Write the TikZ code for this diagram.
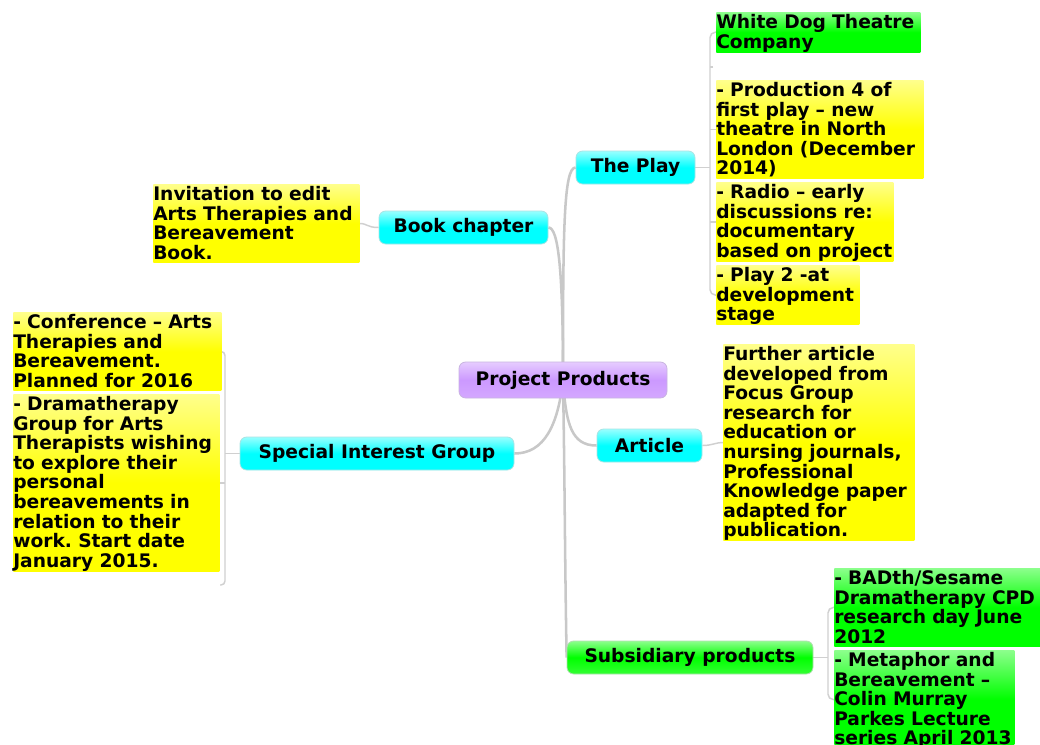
\documentclass[tikz,border=0pt]{standalone}
\usepackage{fontspec}
\setmainfont{DejaVu Sans}
\usetikzlibrary{backgrounds}
\frenchspacing

% one text line of a leaf: fixed strut so every row is 14.7pt tall
\newcommand\lstrut{\vrule height 12.2pt depth 2.5pt width 0pt}
\newcommand\rowl[1]{\mbox{\lstrut#1}}
\newcommand\mapfont{\bfseries\fontsize{14}{14.7}\selectfont\lineskiplimit=-20pt\relax}

\definecolor{trunkgray}{HTML}{C8C8C8}
\definecolor{twiggray}{HTML}{D0D0D0}
\definecolor{Yel}{HTML}{FFFF00}
\definecolor{YelTop}{HTML}{FFFF8C}
\definecolor{Grn}{HTML}{00FF00}
\definecolor{GrnTop}{HTML}{8CFF8C}
\definecolor{GrnBot}{HTML}{33FF33}
\definecolor{GrnEdge}{HTML}{B0E0B0}
\definecolor{Cy}{HTML}{00FFFF}
\definecolor{CyTop}{HTML}{99FFFF}
\definecolor{CyEdge}{HTML}{A8E4E4}
\definecolor{Pu}{HTML}{CC99FF}
\definecolor{PuTop}{HTML}{E6CCFF}
\definecolor{PuBot}{HTML}{D4A8FF}
\definecolor{PuEdge}{HTML}{C8B4E0}

\tikzset{
  txt/.style={font=\mapfont},
  topic/.style={txt, rounded corners=5pt, inner sep=0pt, line width=0.6pt,
                minimum height=24.75pt},
  cyantopic/.style={topic, top color=CyTop, bottom color=Cy, middle color=Cy, draw=CyEdge},
  greentopic/.style={topic, top color=GrnTop, bottom color=GrnBot, middle color=Grn, draw=GrnEdge},
  centraltopic/.style={topic, top color=PuTop, bottom color=PuBot, middle color=Pu, draw=PuEdge},
  leaf/.style={txt, inner sep=0pt, anchor=north west, align=left},
  yelleaf/.style={leaf, top color=YelTop, bottom color=Yel, middle color=Yel},
  grnleaf/.style={leaf, top color=GrnTop, bottom color=Grn, middle color=Grn},
  trunk/.style={draw=trunkgray, line width=1.9pt},
  twig/.style={draw=twiggray, line width=1.1pt},
}

\begin{document}
\begin{tikzpicture}[x=0.75pt, y=-0.75pt]
\clip (0,0) rectangle (1040,744);

% central topic and main branches
\node[centraltopic, minimum width=156pt, minimum height=27pt] (pp) at (563,380) {Project Products};
\node[cyantopic, minimum width=89.25pt] (play) at (635.5,167.5) {The Play};
\node[cyantopic, minimum width=126.75pt] (book) at (463.5,227.5) {Book chapter};
\node[cyantopic, minimum width=205.5pt] (sig) at (377,453.5) {Special Interest Group};
\node[cyantopic, minimum width=78.75pt] (art) at (649.5,445.5) {Article};
\node[greentopic, minimum width=184.5pt] (sub) at (690,657.5) {Subsidiary products};

% The Play
\node[grnleaf, text width=153pt] (wd) at (716,12)
  {\rowl{White Dog Theatre}\\\rowl{Company}};
\node[yelleaf, text width=155.25pt] (prod) at (716,80)
  {\rowl{- Production 4 of}\\\rowl{first play – new}\\\rowl{theatre in North}\\\rowl{London (December}\\\rowl{2014)}};
\node[yelleaf, text width=132.75pt] (radio) at (716,182)
  {\rowl{- Radio – early}\\\rowl{discussions re:}\\\rowl{documentary}\\\rowl{based on project}};
\node[yelleaf, text width=107.25pt] (play2) at (716,265)
  {\rowl{- Play 2 -at}\\\rowl{development}\\\rowl{stage}};

% Book chapter
\node[yelleaf, text width=154.5pt] (bkleaf) at (153,184)
  {\rowl{Invitation to edit}\\\rowl{Arts Therapies and}\\\rowl{Bereavement}\\\rowl{Book.}};

% Special Interest Group
\node[yelleaf, text width=156pt] (conf) at (13,312)
  {\rowl{- Conference – Arts}\\\rowl{Therapies and}\\\rowl{Bereavement.}\\\rowl{Planned for 2016}};
\node[yelleaf, text width=154.5pt] (drama) at (13,394)
  {\rowl{- Dramatherapy}\\\rowl{Group for Arts}\\\rowl{Therapists wishing}\\\rowl{to explore their}\\\rowl{personal}\\\rowl{bereavements in}\\\rowl{relation to their}\\\rowl{work. Start date}\\\rowl{January 2015.}};

% Article
\node[yelleaf, text width=143.25pt] (artleaf) at (723,344)
  {\rowl{Further article}\\\rowl{developed from}\\\rowl{Focus Group}\\\rowl{research for}\\\rowl{education or}\\\rowl{nursing journals,}\\\rowl{Professional}\\\rowl{Knowledge paper}\\\rowl{adapted for}\\\rowl{publication.}};

% Subsidiary products
\node[grnleaf, text width=154.5pt] (bad) at (834,568)
  {\rowl{- BADth/Sesame}\\\rowl{Dramatherapy CPD}\\\rowl{research day June}\\\rowl{2012}};
\node[grnleaf, text width=135pt] (met) at (834,650)
  {\rowl{- Metaphor and}\\\rowl{Bereavement –}\\\rowl{Colin Murray}\\\rowl{Parkes Lecture}\\\rowl{series April 2013}};

% bracket joints
\coordinate (playjoin) at (710,167.5);
\coordinate (playgap) at (713,67);
\coordinate (sigjoin) at (225,453.5);
\coordinate (sigfoot) at (220,585);
\coordinate (subjoin) at (828,657.5);

\begin{scope}[on background layer]
  \fill[white] (0,0) rectangle (1040,744);
  % main branches
  \draw[trunk] (pp.center) .. controls +(0,-150) and +(-12,0) .. (play.west);
  \draw[trunk] (pp.center) .. controls +(0,-110) and +(10,0) .. (book.east);
  \draw[trunk] (pp.center) .. controls +(-5,45) and +(30,0) .. (sig.east);
  \draw[trunk] (pp.center) .. controls +(3,45) and +(-25,0) .. (art.west);
  \draw[trunk] (pp.center) .. controls +(2,120) and +(-2,-120) .. (sub.west);
  % leaf connectors
  \draw[twig] (play.east) -- (playjoin);
  \draw[twig, rounded corners=4] (wd.west) -| (playjoin) |- (play2.west);
  \draw[twig] (prod.west) -- (prod.west -| playjoin);
  \draw[twig] (radio.west) -- (radio.west -| playjoin);
  \draw[twig] (playgap) -- (playgap -| playjoin);
  \draw[twig] (book.west) .. controls +(-12,0) and +(8,0) .. (bkleaf.east);
  \draw[twig] (art.east) .. controls +(10,0) and +(-8,0) .. (artleaf.west);
  \draw[twig] (sig.west) -- (sigjoin);
  \draw[twig, rounded corners=3] (conf.east) -| (sigjoin) |- (sigfoot);
  \draw[twig] (drama.east) -- (drama.east -| sigjoin);
  \draw[twig] (sub.east) -- (subjoin);
  \draw[twig, rounded corners=4] (bad.west) -| (subjoin) |- (met.west);
\end{scope}
\end{tikzpicture}
\end{document}
